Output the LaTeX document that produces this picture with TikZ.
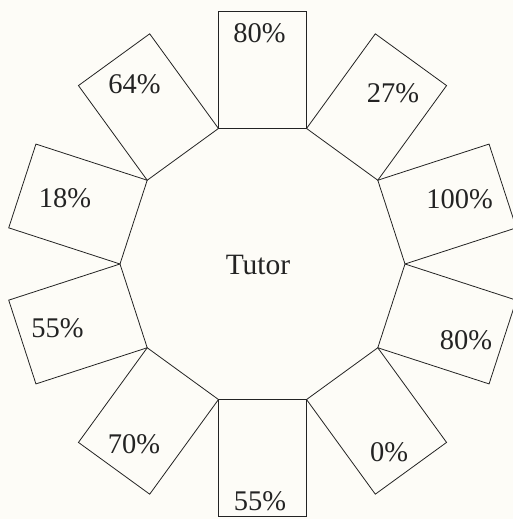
\documentclass[tikz,border=0pt]{standalone}
\usepackage{fontspec}
\setmainfont{Liberation Serif}
\usetikzlibrary{calc}
\definecolor{paper}{RGB}{253,252,247}
\definecolor{ink}{RGB}{35,35,35}
\begin{document}
\begin{tikzpicture}[x=1pt,y=1pt,
  box/.style={draw=ink, line width=0.8pt, line join=miter},
  lbl/.style={font=\fontsize{28.5}{30}\selectfont, text=ink, inner sep=0pt},
  ctr/.style={font=\fontsize{29.5}{32}\selectfont, text=ink, inner sep=0pt}]
\useasboundingbox (0,0) rectangle (513,519);
\fill[paper] (0,0) rectangle (513,519);
\coordinate (C) at (262.5,255);
\foreach \a [count=\i] in {18,54,...,342} {
  \pgfmathsetmacro{\lo}{\a-18}
  \pgfmathsetmacro{\hi}{\a+18}
  \coordinate (v\i) at ($(C)+(\lo:142.5)$);
  \coordinate (w\i) at ($(C)+(\hi:142.5)$);
  \draw[box] (v\i) -- (w\i) -- ($(w\i)+(\a:117)$) -- ($(v\i)+(\a:117)$) -- cycle;
}
\node[ctr] (tutor) at (258,254) {Tutor};
\node[lbl] (p1) at (259.5,486) {80\%};
\node[lbl] (p2) at (393,426) {27\%};
\node[lbl] (p3) at (459.5,320) {100\%};
\node[lbl] (p4) at (466,178.5) {80\%};
\node[lbl] (p5) at (389,67) {0\%};
\node[lbl] (p6) at (260,18) {55\%};
\node[lbl] (p7) at (134,75) {70\%};
\node[lbl] (p8) at (57.5,191) {55\%};
\node[lbl] (p9) at (65,321) {18\%};
\node[lbl] (p10) at (134.5,434.5) {64\%};
\end{tikzpicture}
\end{document}
